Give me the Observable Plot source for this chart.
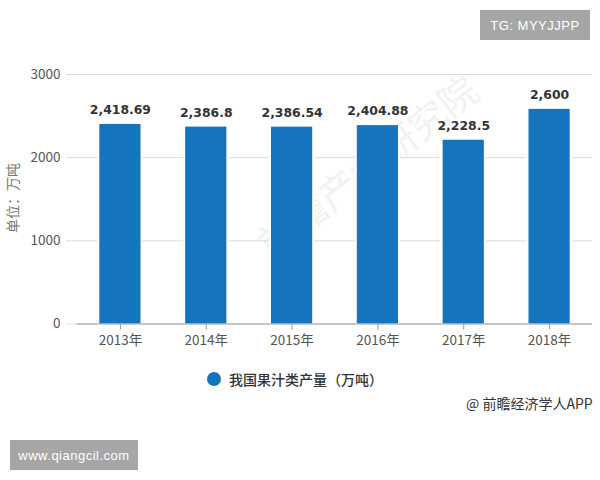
<!DOCTYPE html>
<html><head><meta charset="utf-8">
<script src="https://cdn.jsdelivr.net/npm/d3@7"></script>
<script src="https://cdn.jsdelivr.net/npm/@observablehq/plot@0.6"></script>
<style>
html,body{margin:0;padding:0;background:#fff;overflow:hidden}
#wrap{position:relative;width:600px;height:480px;font-family:"Noto Sans CJK SC","Noto Sans",sans-serif}
#wrap svg{display:block;position:relative}
.abs{position:absolute;white-space:nowrap}
.badge{background:#a6a6a6;color:#fff;font:13px "Liberation Sans","DejaVu Sans",sans-serif;display:flex;align-items:center;justify-content:center;letter-spacing:.5px}
</style></head><body><div id="wrap"></div>
<script>
const years=["2013年","2014年","2015年","2016年","2017年","2018年"];
const values=[2418.69,2386.8,2386.54,2404.88,2228.5,2600];
const labels=["2,418.69","2,386.8","2,386.54","2,404.88","2,228.5","2,600"];
const yTicks=[0,1000,2000,3000];
const yTitle="单位：万吨";
const legendLabel="我国果汁类产量（万吨）";
const credit="@ 前瞻经济学人APP";
const watermark="前瞻产业研究院";
const data=years.map((y,i)=>({year:y,value:values[i],label:labels[i]}));
const font='"Noto Sans CJK SC","Noto Sans",sans-serif';
const chart=Plot.plot({
  width:600,height:480,marginTop:74,marginBottom:156.5,marginLeft:77,marginRight:8,
  style:{fontFamily:font,background:"transparent"},
  x:{domain:years,paddingInner:0.52,paddingOuter:0.26,round:false,label:null},
  y:{domain:[0,3000],ticks:yTicks,label:null},
  marks:[
    Plot.ruleY(yTicks,{stroke:"#dcdcdc",strokeWidth:1}),
    Plot.axisY(yTicks,{tickSize:11,stroke:"#dcdcdc",strokeOpacity:1,tickPadding:6,fontSize:13.5,fill:"#555",tickFormat:d=>String(d),label:null}),
    Plot.barY(data,{x:"year",y:"value",fill:"#1474bd",insetTop:1.6,stroke:"#fff",strokeWidth:4,paintOrder:"stroke"}),
    Plot.axisX({tickSize:6,stroke:"#999",strokeOpacity:1,tickPadding:5,fontSize:13.5,fill:"#555",label:null}),
    Plot.ruleY([0],{stroke:"#999",strokeWidth:1}),
    Plot.text(data,{x:"year",y:"value",text:"label",dy:-12.5,fontSize:12.4,fontWeight:"bold",fill:"#333",fontFamily:'"DejaVu Sans",sans-serif'})
  ]
});
const wrap=document.getElementById("wrap");
function add(cls,css,text){const d=document.createElement("div");d.className=cls;d.style.cssText=css;d.textContent=text;wrap.appendChild(d);return d;}
add("abs","left:255px;top:145px;font-size:38px;line-height:44px;color:#f1f1f1;transform:rotate(-38deg);transform-origin:left center;left:262px;top:225px",watermark);
wrap.appendChild(chart);
add("abs","left:12px;top:191px;font-size:14px;line-height:14px;color:#777;transform:translate(-50%,0) rotate(-90deg);transform-origin:center",yTitle);
add("abs","left:207px;top:372px;width:14px;height:14px;border-radius:50%;background:#1474bd","");
add("abs","left:229px;top:369px;font-size:14px;line-height:20px;color:#333;font-weight:500",legendLabel);
add("abs","left:466px;top:393px;font-size:14px;line-height:20px;color:#333",credit);
add("abs badge","left:480px;top:10px;width:110px;height:30px","TG: MYYJJPP");
add("abs badge","left:10px;top:440px;width:128px;height:30px","www.qiangcil.com");
</script></body></html>
